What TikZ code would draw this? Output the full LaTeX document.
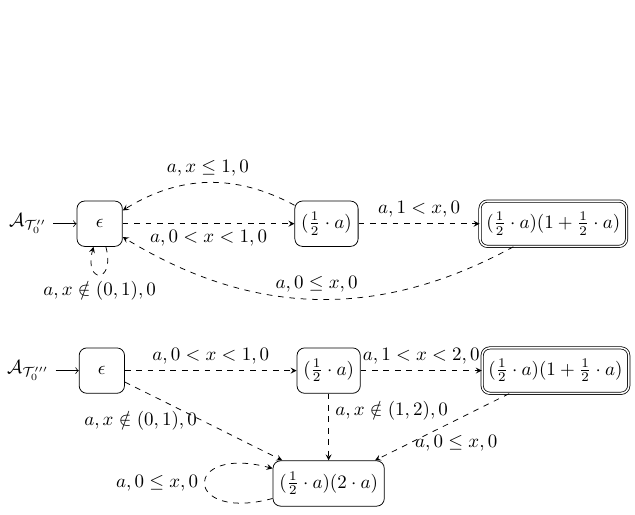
\documentclass[tikz,border=0pt]{standalone}
\usepackage{amsmath, amssymb}
\usetikzlibrary{positioning}

\begin{document}
\begin{tikzpicture}[>=stealth,
  loc/.style={draw, rectangle, rounded corners, minimum width=0.84cm, minimum height=0.84cm},
  accloc/.style={loc, double, double distance=0.8pt},
  trans/.style={->, dashed}]
  \useasboundingbox (-1.846,4.143) rectangle (9.913,-5.376);
  % first automaton
  \node[loc] (e1) at (0,0) {$\epsilon$};
  \node[loc] (h1) at (4.2,0) {$(\frac{1}{2}\cdot a)$};
  \node[accloc] (f1) at (8.4,0) {$(\frac{1}{2}\cdot a)(1+\frac{1}{2}\cdot a)$};
  \node (i1) [left=0.43cm of e1] {$\mathcal{A}_{\mathcal{T}_0''}$};
  \draw[-to] (i1) -- (e1);
  % transitions
  \draw[trans] (e1) -- node[below] {$a, 0 < x < 1, 0$} (h1);
  \draw[trans] (h1) to[bend right] node[above] {$a, x \leq 1, 0$} (e1);
  \draw[trans] (h1) -- node[above] {$a, 1 < x, 0$} (f1);
  \draw[trans] (f1) to[bend left] node[above] {$a, 0 \leq x, 0$} (e1);
  \draw[trans] (e1) to[loop below] node[below] {$a, x \notin (0,1), 0$} (e1);
  % second automaton
  \node[loc] (e2) at (0.04,-2.72) {$\epsilon$};
  \node[loc] (h2) at (4.24,-2.72) {$(\frac{1}{2}\cdot a)$};
  \node[accloc] (f2) at (8.44,-2.72) {$(\frac{1}{2}\cdot a)(1+\frac{1}{2}\cdot a)$};
  \node[loc] (g2) at (4.24,-4.81) {$(\frac{1}{2}\cdot a)(2\cdot a)$};
  \node (i2) [left=0.43cm of e2] {$\mathcal{A}_{\mathcal{T}_0'''}$};
  \draw[-to] (i2) -- (e2);
  % transitions
  \draw[trans] (e2) -- node[above] {$a, 0 < x < 1, 0$} (h2);
  \draw[trans] (h2) -- node[above] {$a, 1 < x < 2, 0$} (f2);
  \draw[trans] (e2) -- node[left] {$a, x \notin (0,1), 0$} (g2);
  \draw[trans] (h2) -- node[near start, right] {$a, x \notin (1,2), 0$} (g2);
  \draw[trans] (f2) -- node[near end, right] {$a, 0 \leq x, 0$} (g2);
  \draw[trans] (g2) to[loop left] node[left] {$a, 0 \leq x, 0$} (g2);
\end{tikzpicture}
\end{document}
